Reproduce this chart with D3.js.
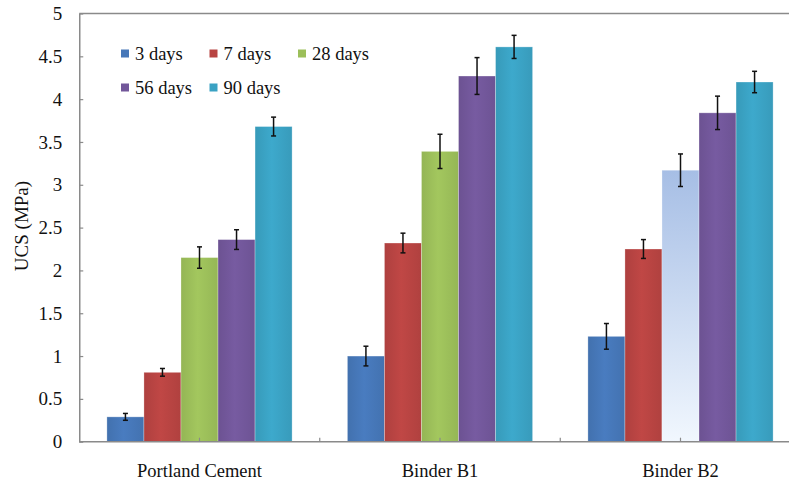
<!DOCTYPE html>
<html>
<head>
<meta charset="utf-8">
<script src="https://cdn.jsdelivr.net/npm/d3@7"></script>
<style>
  body { margin: 0; background: #fff; }
</style>
</head>
<body>
<div id="chart"></div>
<script>
// values (UCS in MPa)
const categories = ["Portland Cement", "Binder B1", "Binder B2"];
const seriesNames = ["3 days", "7 days", "28 days", "56 days", "90 days"];
const values = [
    [0.29, 0.81, 2.15, 2.36, 3.68],
    [1.00, 2.32, 3.39, 4.27, 4.61],
    [1.23, 2.25, 3.17, 3.84, 4.20]
];
const errors = [
    [0.04, 0.045, 0.125, 0.115, 0.11],
    [0.115, 0.115, 0.20, 0.215, 0.135],
    [0.15, 0.11, 0.19, 0.195, 0.125]
];
const yTicks = [0, 0.5, 1, 1.5, 2, 2.5, 3, 3.5, 4, 4.5, 5];

const colors = ["#4677b8", "#b84442", "#9cbf5a", "#72579a", "#3aa2c3"];
const FONT = "'Liberation Serif', 'Times New Roman', Times, 'DejaVu Serif', serif";

const width = 789, height = 483;
const plotLeft = 79.25, plotRight = 800.75, plotTop = 13.5, plotBottom = 441.7;

let svg = d3.select("#chart")
    .append("svg")
    .attr("width", width)
    .attr("height", height);

let defs = svg.append("defs");
colors.forEach(function(c, i) {
    let g = defs.append("linearGradient")
        .attr("id", "grad" + i)
        .attr("x1", "0").attr("x2", "1").attr("y1", "0").attr("y2", "0");
    g.append("stop").attr("offset", "0%").attr("stop-color", d3.color(c).darker(0.15));
    g.append("stop").attr("offset", "45%").attr("stop-color", d3.color(c).brighter(0.12));
    g.append("stop").attr("offset", "100%").attr("stop-color", d3.color(c).darker(0.12));
});
// the 28 day bar of Binder B2 is drawn pale in the original
let pale = defs.append("linearGradient")
    .attr("id", "pale")
    .attr("x1", "0").attr("x2", "0").attr("y1", "0").attr("y2", "1");
pale.append("stop").attr("offset", "0%").attr("stop-color", "#a6bee5");
pale.append("stop").attr("offset", "100%").attr("stop-color", "#f1f7fe");

let x0 = d3.scaleBand()
    .domain(categories)
    .range([plotLeft, plotRight])
    .paddingInner(0.23)
    .paddingOuter(0.115);

let x1 = d3.scaleBand()
    .domain(seriesNames)
    .range([0, x0.bandwidth()]);

let y = d3.scaleLinear()
    .domain([0, 5])
    .range([plotBottom, plotTop]);

// frame
svg.append("line")
    .attr("x1", plotLeft).attr("x2", plotRight)
    .attr("y1", plotTop).attr("y2", plotTop)
    .attr("stroke", "#8a8a8a").attr("stroke-width", 1.5);

// bars
let groups = svg.selectAll(".group")
    .data(categories)
    .enter()
    .append("g")
    .attr("class", "group")
    .attr("transform", function(d) { return "translate(" + x0(d) + ",0)"; });

groups.selectAll("rect")
    .data(function(d, i) {
        return seriesNames.map(function(s, j) {
            return {cat: i, s: j, name: s, v: values[i][j], e: errors[i][j]};
        });
    })
    .enter()
    .append("rect")
    .attr("x", function(d) { return x1(d.name); })
    .attr("width", x1.bandwidth())
    .attr("y", function(d) { return y(d.v); })
    .attr("height", function(d) { return y(0) - y(d.v); })
    .attr("fill", function(d) {
        return (d.cat == 2 && d.s == 2) ? "url(#pale)" : "url(#grad" + d.s + ")";
    })
    .attr("stroke", "rgba(255,255,255,0.35)")
    .attr("stroke-width", 0.8);

// error bars
let eb = groups.selectAll(".err")
    .data(function(d, i) {
        return seriesNames.map(function(s, j) {
            return {name: s, v: values[i][j], e: errors[i][j]};
        });
    })
    .enter()
    .append("g")
    .attr("class", "err")
    .attr("stroke", "#111")
    .attr("stroke-width", 1.5);

eb.append("line")
    .attr("x1", function(d) { return x1(d.name) + x1.bandwidth() / 2; })
    .attr("x2", function(d) { return x1(d.name) + x1.bandwidth() / 2; })
    .attr("y1", function(d) { return y(d.v + d.e); })
    .attr("y2", function(d) { return y(d.v - d.e); });

[1, -1].forEach(function(sign) {
    eb.append("line")
        .attr("x1", function(d) { return x1(d.name) + x1.bandwidth() / 2 - 2.5; })
        .attr("x2", function(d) { return x1(d.name) + x1.bandwidth() / 2 + 2.5; })
        .attr("y1", function(d) { return y(d.v + sign * d.e); })
        .attr("y2", function(d) { return y(d.v + sign * d.e); });
});

// y axis
let yAxis = svg.append("g")
    .attr("transform", "translate(" + plotLeft + ",0)")
    .call(d3.axisLeft(y).tickValues(yTicks).tickFormat(d3.format("~g")).tickSizeInner(-4).tickSizeOuter(0).tickPadding(17));
yAxis.attr("font-family", null);
yAxis.select(".domain").attr("stroke", "#8a8a8a").attr("stroke-width", 1.5);
yAxis.selectAll(".tick line").attr("stroke", "#8a8a8a").attr("stroke-width", 1.2);
yAxis.selectAll(".tick text")
    .style("font-family", FONT)
    .style("font-size", "19px")
    .attr("fill", "#111");

// x axis: ticks at group centres and between groups
let step = x0.step();
let xTickPos = d3.range(0, categories.length * 2 + 1).map(function(k) { return plotLeft + k * step / 2; })
    .filter(function(p) { return p > plotLeft + 1; });
svg.append("line")
    .attr("x1", plotLeft).attr("x2", plotRight)
    .attr("y1", plotBottom).attr("y2", plotBottom)
    .attr("stroke", "#8a8a8a").attr("stroke-width", 1.5);
svg.selectAll(".xtick")
    .data(xTickPos)
    .enter()
    .append("line")
    .attr("class", "xtick")
    .attr("x1", function(d) { return d; })
    .attr("x2", function(d) { return d; })
    .attr("y1", plotBottom).attr("y2", plotBottom - 4)
    .attr("stroke", "#8a8a8a").attr("stroke-width", 1.2);

svg.selectAll(".xlabel")
    .data(categories)
    .enter()
    .append("text")
    .attr("class", "xlabel")
    .attr("x", function(d) { return x0(d) + x0.bandwidth() / 2; })
    .attr("y", 477)
    .attr("text-anchor", "middle")
    .style("font-family", FONT)
    .style("font-size", "18.5px")
    .attr("fill", "#111")
    .text(function(d) { return d; });

// y label
svg.append("text")
    .attr("transform", "translate(28,226) rotate(-90)")
    .attr("text-anchor", "middle")
    .style("font-family", FONT)
    .style("font-size", "19px")
    .attr("fill", "#111")
    .text("UCS (MPa)");

// legend
let legend = svg.selectAll(".legend")
    .data(seriesNames)
    .enter()
    .append("g")
    .attr("class", "legend")
    .attr("transform", function(d, i) {
        return "translate(" + (121 + (i % 3) * 88.5) + "," + (49.5 + Math.floor(i / 3) * 34) + ")";
    });
legend.append("rect")
    .attr("width", 8).attr("height", 8)
    .attr("fill", function(d, i) { return colors[i]; });
legend.append("text")
    .attr("x", 14)
    .attr("y", 10.5)
    .style("font-family", FONT)
    .style("font-size", "18.5px")
    .attr("fill", "#111")
    .text(function(d) { return d; });
</script>
</body>
</html>
